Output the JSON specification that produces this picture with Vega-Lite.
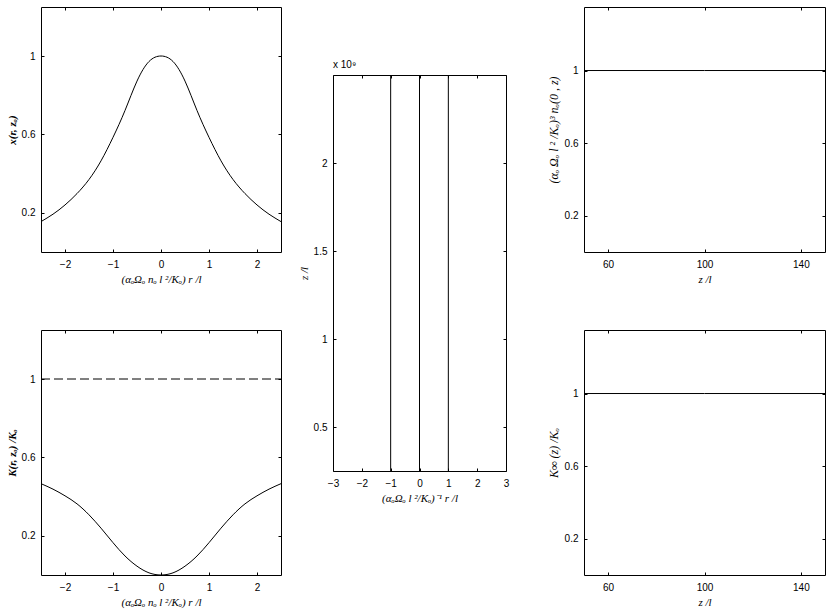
{
  "$schema": "https://vega.github.io/schema/vega-lite/v6.json",
  "background": "white",
  "padding": {"left": 5, "top": 6, "right": 5, "bottom": 3},
  "spacing": 13,
  "config": {
    "view": {"stroke": "#000", "strokeWidth": 1},
    "axis": {
      "grid": false, "domain": false, "tickColor": "#000", "tickSize": -3, "tickWidth": 1,
      "labelFont": "Liberation Sans", "labelFontSize": 10, "labelColor": "#000", "labelPadding": 9,
      "labelFlush": false, "labelOverlap": false,
      "titleFont": "Liberation Serif", "titleFontStyle": "italic", "titleFontWeight": "normal",
      "titleFontSize": 11, "titleColor": "#000", "titlePadding": 4
    },
    "axisX": {"labelPadding": 10},
    "title": {"font": "Liberation Sans", "fontSize": 10, "fontWeight": "normal", "color": "#000"}
  },
  "hconcat": [
    {
      "bounds": "flush",
      "spacing": 78,
      "vconcat": [
        {
          "width": 240, "height": 245,
          "data": {"values": [
            {"r": -2.5, "v": 0.155}, {"r": -2.25, "v": 0.193}, {"r": -2.0, "v": 0.24}, {"r": -1.75, "v": 0.298},
            {"r": -1.5, "v": 0.37}, {"r": -1.25, "v": 0.465}, {"r": -1.0, "v": 0.585}, {"r": -0.75, "v": 0.722},
            {"r": -0.5, "v": 0.872}, {"r": -0.25, "v": 0.972}, {"r": 0.0, "v": 1.0}, {"r": 0.25, "v": 0.972},
            {"r": 0.5, "v": 0.872}, {"r": 0.75, "v": 0.722}, {"r": 1.0, "v": 0.585}, {"r": 1.25, "v": 0.465},
            {"r": 1.5, "v": 0.37}, {"r": 1.75, "v": 0.298}, {"r": 2.0, "v": 0.24}, {"r": 2.25, "v": 0.193},
            {"r": 2.5, "v": 0.155}
          ]},
          "layer": [
            {
              "mark": {"type": "line", "color": "#000", "strokeWidth": 1, "interpolate": "natural"},
              "encoding": {
                "x": {"field": "r", "type": "quantitative", "scale": {"domain": [-2.5, 2.5], "nice": false},
                      "axis": {"values": [-2, -1, 0, 1, 2], "format": "~f", "title": "(αₒΩₒ nₒ l ²/Kₒ)  r /l"}},
                "y": {"field": "v", "type": "quantitative", "scale": {"domain": [0, 1.25], "nice": false, "zero": false},
                      "axis": {"values": [0.2, 0.6, 1], "format": "~f", "title": "x(r, zₒ)", "titleFontWeight": "bold"}}
              }
            },
            {
              "mark": {"type": "line", "opacity": 0},
              "encoding": {
                "x": {"field": "r", "type": "quantitative", "scale": {"domain": [-2.5, 2.5], "nice": false},
                      "axis": {"orient": "top", "values": [-2, -1, 0, 1, 2], "labels": false, "title": null}},
                "y": {"field": "v", "type": "quantitative", "scale": {"domain": [0, 1.25], "nice": false, "zero": false},
                      "axis": {"orient": "right", "values": [0.2, 0.6, 1], "labels": false, "title": null}}
              }
            }
          ],
          "resolve": {"axis": {"x": "independent", "y": "independent"}}
        },
        {
          "width": 240, "height": 245,
          "layer": [
            {
              "data": {"values": [
                {"r": -2.5, "k": 0.466}, {"r": -2.25, "k": 0.438}, {"r": -2.0, "k": 0.404}, {"r": -1.75, "k": 0.363},
                {"r": -1.5, "k": 0.307}, {"r": -1.25, "k": 0.239}, {"r": -1.0, "k": 0.165}, {"r": -0.75, "k": 0.097},
                {"r": -0.5, "k": 0.045}, {"r": -0.25, "k": 0.011}, {"r": 0.0, "k": 0.0}, {"r": 0.25, "k": 0.011},
                {"r": 0.5, "k": 0.045}, {"r": 0.75, "k": 0.097}, {"r": 1.0, "k": 0.165}, {"r": 1.25, "k": 0.239},
                {"r": 1.5, "k": 0.307}, {"r": 1.75, "k": 0.363}, {"r": 2.0, "k": 0.404}, {"r": 2.25, "k": 0.438},
                {"r": 2.5, "k": 0.466}
              ]},
              "mark": {"type": "line", "color": "#000", "strokeWidth": 1, "interpolate": "natural"},
              "encoding": {
                "x": {"field": "r", "type": "quantitative", "scale": {"domain": [-2.5, 2.5], "nice": false},
                      "axis": {"values": [-2, -1, 0, 1, 2], "format": "~f", "title": "(αₒΩₒ nₒ l ²/Kₒ)  r /l"}},
                "y": {"field": "k", "type": "quantitative", "scale": {"domain": [0, 1.25], "nice": false, "zero": false},
                      "axis": {"values": [0.2, 0.6, 1], "format": "~f", "title": "K(r, zₒ) /Kₒ", "titleFontWeight": "bold"}}
              }
            },
            {
              "data": {"values": [{"r": -2.5, "k": 1}, {"r": 2.5, "k": 1}]},
              "mark": {"type": "line", "color": "#000", "strokeWidth": 1, "strokeDash": [9, 4]},
              "encoding": {
                "x": {"field": "r", "type": "quantitative", "scale": {"domain": [-2.5, 2.5], "nice": false},
                      "axis": {"orient": "top", "values": [-2, -1, 0, 1, 2], "labels": false, "title": null}},
                "y": {"field": "k", "type": "quantitative", "scale": {"domain": [0, 1.25], "nice": false, "zero": false},
                      "axis": {"orient": "right", "values": [0.2, 0.6, 1], "labels": false, "title": null}}
              }
            }
          ],
          "resolve": {"axis": {"x": "independent", "y": "independent"}}
        }
      ]
    },
    {
      "bounds": "flush",
      "spacing": 10,
      "vconcat": [
        {
          "width": 173, "height": 58,
          "view": {"stroke": null},
          "data": {"values": [{"s": 0}]},
          "mark": {"type": "point", "opacity": 0}
        },
        {
          "width": 173, "height": 396,
          "title": {"text": "x 10⁹", "anchor": "start", "frame": "group", "offset": 3},
          "data": {"values": [
            {"r": -1, "z": 0.25}, {"r": -1, "z": 2.5},
            {"r": 0, "z": 0.25}, {"r": 0, "z": 2.5},
            {"r": 1, "z": 0.25}, {"r": 1, "z": 2.5}
          ]},
          "layer": [
            {
              "mark": {"type": "line", "color": "#000", "strokeWidth": 1},
              "encoding": {
                "detail": {"field": "r"},
                "x": {"field": "r", "type": "quantitative", "scale": {"domain": [-3, 3], "nice": false},
                      "axis": {"values": [-3, -2, -1, 0, 1, 2, 3], "format": "~f", "title": "(αₒΩₒ l ²/Kₒ)⁻¹  r /l"}},
                "y": {"field": "z", "type": "quantitative", "scale": {"domain": [0.25, 2.5], "nice": false, "zero": false},
                      "axis": {"values": [0.5, 1, 1.5, 2], "format": "~f", "title": "z /l"}}
              }
            },
            {
              "mark": {"type": "line", "opacity": 0},
              "encoding": {
                "detail": {"field": "r"},
                "x": {"field": "r", "type": "quantitative", "scale": {"domain": [-3, 3], "nice": false},
                      "axis": {"orient": "top", "values": [-3, -2, -1, 0, 1, 2, 3], "labels": false, "title": null}},
                "y": {"field": "z", "type": "quantitative", "scale": {"domain": [0.25, 2.5], "nice": false, "zero": false},
                      "axis": {"orient": "right", "values": [0.5, 1, 1.5, 2], "labels": false, "title": null}}
              }
            }
          ],
          "resolve": {"axis": {"x": "independent", "y": "independent"}}
        }
      ]
    },
    {
      "width": 10, "height": 10,
      "view": {"stroke": null},
      "data": {"values": [{"s": 0}]},
      "mark": {"type": "point", "opacity": 0}
    },
    {
      "bounds": "flush",
      "spacing": 78,
      "vconcat": [
        {
          "width": 241, "height": 245,
          "data": {"values": [{"z": 50, "n": 1}, {"z": 100, "n": 1}, {"z": 150, "n": 1}]},
          "layer": [
            {
              "mark": {"type": "line", "color": "#000", "strokeWidth": 1},
              "encoding": {
                "x": {"field": "z", "type": "quantitative", "scale": {"domain": [50, 150], "nice": false, "zero": false},
                      "axis": {"values": [60, 100, 140], "format": "~f", "title": "z /l"}},
                "y": {"field": "n", "type": "quantitative", "scale": {"domain": [0, 1.35], "nice": false, "zero": false},
                      "axis": {"values": [0.2, 0.6, 1], "format": "~f", "title": "(αₒ Ωₒ  l ² /Kₒ)³   nₒ(0 , z)", "titleFontSize": 12}}
              }
            },
            {
              "mark": {"type": "line", "opacity": 0},
              "encoding": {
                "x": {"field": "z", "type": "quantitative", "scale": {"domain": [50, 150], "nice": false, "zero": false},
                      "axis": {"orient": "top", "values": [60, 100, 140], "labels": false, "title": null}},
                "y": {"field": "n", "type": "quantitative", "scale": {"domain": [0, 1.35], "nice": false, "zero": false},
                      "axis": {"orient": "right", "values": [0.2, 0.6, 1], "labels": false, "title": null}}
              }
            }
          ],
          "resolve": {"axis": {"x": "independent", "y": "independent"}}
        },
        {
          "width": 241, "height": 245,
          "data": {"values": [{"z": 50, "k": 1}, {"z": 100, "k": 1}, {"z": 150, "k": 1}]},
          "layer": [
            {
              "mark": {"type": "line", "color": "#000", "strokeWidth": 1},
              "encoding": {
                "x": {"field": "z", "type": "quantitative", "scale": {"domain": [50, 150], "nice": false, "zero": false},
                      "axis": {"values": [60, 100, 140], "format": "~f", "title": "z /l"}},
                "y": {"field": "k", "type": "quantitative", "scale": {"domain": [0, 1.35], "nice": false, "zero": false},
                      "axis": {"values": [0.2, 0.6, 1], "format": "~f", "title": "K∞ (z) /Kₒ", "titleFontSize": 12}}
              }
            },
            {
              "mark": {"type": "line", "opacity": 0},
              "encoding": {
                "x": {"field": "z", "type": "quantitative", "scale": {"domain": [50, 150], "nice": false, "zero": false},
                      "axis": {"orient": "top", "values": [60, 100, 140], "labels": false, "title": null}},
                "y": {"field": "k", "type": "quantitative", "scale": {"domain": [0, 1.35], "nice": false, "zero": false},
                      "axis": {"orient": "right", "values": [0.2, 0.6, 1], "labels": false, "title": null}}
              }
            }
          ],
          "resolve": {"axis": {"x": "independent", "y": "independent"}}
        }
      ]
    }
  ]
}
